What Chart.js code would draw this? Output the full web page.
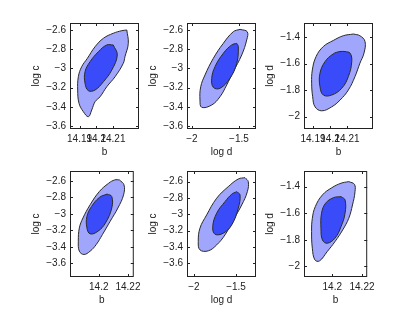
<!DOCTYPE html>
<html>
<head>
<meta charset="utf-8">
<script src="https://cdn.jsdelivr.net/npm/chart.js@4/dist/chart.umd.min.js"></script>
<style>
  body { margin: 0; background: #fff; width: 415px; height: 313px; position: relative; overflow: hidden; }
  canvas { position: absolute; }
</style>
</head>
<body>
<script>
// tick values
const bTicksTop = [14.19, 14.2, 14.21];
const bTicksBottom = [14.2, 14.22];
const logdTicksX = [-2, -1.5];
const logcTicks = [-3.6, -3.4, -3.2, -3, -2.8, -2.6];
const logdTicksY = [-2, -1.8, -1.6, -1.4];

// contour outlines, [x, y] in axis units
const p1Outer = [[14.2183,-2.600],[14.2192,-2.739],[14.2172,-2.878],[14.2162,-2.947],[14.2113,-3.086],[14.2063,-3.191],[14.2023,-3.295],[14.1993,-3.347],[14.1973,-3.433],[14.1953,-3.503],[14.1923,-3.451],[14.1897,-3.364],[14.1889,-3.225],[14.1893,-3.086],[14.1913,-2.982],[14.1947,-2.895],[14.1993,-2.774],[14.2043,-2.686],[14.2102,-2.634],[14.2153,-2.607]];
const p1Inner = [[14.2102,-2.756],[14.2126,-2.860],[14.2093,-3.017],[14.2043,-3.139],[14.1993,-3.225],[14.1953,-3.232],[14.1933,-3.155],[14.1933,-3.034],[14.1963,-2.930],[14.2013,-2.826],[14.2063,-2.756]];
const p2Outer = [[-1.489,-2.593],[-1.412,-2.618],[-1.418,-2.704],[-1.471,-2.860],[-1.561,-3.034],[-1.631,-3.173],[-1.702,-3.295],[-1.790,-3.381],[-1.897,-3.405],[-1.915,-3.329],[-1.907,-3.191],[-1.862,-3.069],[-1.773,-2.895],[-1.667,-2.739],[-1.561,-2.618]];
const p2Inner = [[-1.524,-2.739],[-1.507,-2.774],[-1.524,-2.947],[-1.596,-3.103],[-1.702,-3.207],[-1.773,-3.197],[-1.790,-3.103],[-1.755,-2.982],[-1.667,-2.843],[-1.578,-2.756]];
const p3Outer = [[14.2137,-1.377],[14.2176,-1.390],[14.2206,-1.433],[14.2200,-1.521],[14.2176,-1.597],[14.2147,-1.698],[14.2108,-1.799],[14.2059,-1.875],[14.2010,-1.926],[14.1951,-1.956],[14.1912,-1.926],[14.1898,-1.850],[14.1892,-1.748],[14.1896,-1.648],[14.1918,-1.547],[14.1961,-1.471],[14.2019,-1.426],[14.2078,-1.390]];
const p3Inner = [[14.2088,-1.509],[14.2118,-1.521],[14.2128,-1.585],[14.2108,-1.698],[14.2069,-1.786],[14.2010,-1.837],[14.1961,-1.837],[14.1941,-1.774],[14.1941,-1.673],[14.1971,-1.585],[14.2019,-1.527],[14.2059,-1.509]];
const p4Outer = [[14.2142,-2.588],[14.2173,-2.648],[14.2170,-2.769],[14.2131,-2.929],[14.2078,-3.090],[14.2025,-3.251],[14.1983,-3.371],[14.1941,-3.452],[14.1898,-3.492],[14.1867,-3.452],[14.1860,-3.331],[14.1867,-3.170],[14.1892,-3.049],[14.1941,-2.889],[14.2004,-2.729],[14.2068,-2.628],[14.2110,-2.588]];
const p4Inner = [[14.2057,-2.760],[14.2089,-2.789],[14.2089,-2.929],[14.2046,-3.110],[14.1994,-3.211],[14.1941,-3.242],[14.1919,-3.170],[14.1919,-3.030],[14.1951,-2.910],[14.2004,-2.801]];
const p5Outer = [[-1.393,-2.551],[-1.354,-2.600],[-1.365,-2.723],[-1.432,-2.886],[-1.532,-3.069],[-1.631,-3.253],[-1.730,-3.376],[-1.830,-3.449],[-1.929,-3.437],[-1.949,-3.335],[-1.929,-3.171],[-1.849,-3.008],[-1.730,-2.803],[-1.592,-2.661],[-1.473,-2.567]];
const p5Inner = [[-1.492,-2.723],[-1.452,-2.763],[-1.473,-2.926],[-1.551,-3.131],[-1.651,-3.232],[-1.750,-3.245],[-1.777,-3.151],[-1.730,-2.987],[-1.631,-2.845],[-1.551,-2.754]];
const p6Outer = [[14.2111,-1.362],[14.2149,-1.382],[14.2153,-1.438],[14.2136,-1.538],[14.2111,-1.638],[14.2070,-1.726],[14.2018,-1.814],[14.1966,-1.889],[14.1914,-1.959],[14.1883,-1.951],[14.1866,-1.863],[14.1861,-1.738],[14.1866,-1.638],[14.1886,-1.550],[14.1934,-1.462],[14.1997,-1.408],[14.2059,-1.374]];
const p6Inner = [[14.2059,-1.475],[14.2086,-1.500],[14.2086,-1.600],[14.2059,-1.701],[14.2018,-1.788],[14.1966,-1.826],[14.1934,-1.801],[14.1924,-1.713],[14.1928,-1.600],[14.1955,-1.525],[14.2008,-1.483]];

const panels = [
  { left: 70,  top: 23,  xTitle: "b",     yTitle: "log c", x: [14.1843, 14.2256], y: [-3.631, -2.527], xTicks: bTicksTop,    yTicks: logcTicks,  outer: p1Outer, inner: p1Inner },
  { left: 187, top: 23,  xTitle: "log d", yTitle: "log c", x: [-2.053, -1.319],   y: [-3.631, -2.527], xTicks: logdTicksX,   yTicks: logcTicks,  outer: p2Outer, inner: p2Inner },
  { left: 304, top: 23,  xTitle: "b",     yTitle: "log d", x: [14.1847, 14.2253], y: [-2.093, -1.294], xTicks: bTicksTop,    yTicks: logdTicksY, outer: p3Outer, inner: p3Inner },
  { left: 70,  top: 171, xTitle: "b",     yTitle: "log c", x: [14.1803, 14.224],  y: [-3.765, -2.48],  xTicks: bTicksBottom, yTicks: logcTicks,  outer: p4Outer, inner: p4Inner },
  { left: 187, top: 171, xTitle: "log d", yTitle: "log c", x: [-2.083, -1.262],   y: [-3.77, -2.469],  xTicks: logdTicksX,   yTicks: logcTicks,  outer: p5Outer, inner: p5Inner },
  { left: 304, top: 171, xTitle: "b",     yTitle: "log d", x: [14.181, 14.2235],  y: [-2.08, -1.282],  xTicks: bTicksBottom, yTicks: logdTicksY, outer: p6Outer, inner: p6Inner }
];

const BOX_W = 69, BOX_H = 106, AXIS_W = 50, AXIS_H = 35, PAD_T = 10, PAD_R = 6;
const FONT = { family: "'Liberation Sans', Arial, sans-serif", size: 10 };
const TEXT = "#222";

// matlab style: box all round, short ticks pointing inwards
const framePlugin = {
  id: "frame",
  afterDatasetsDraw(chart) {
    const { ctx, chartArea: a, scales } = chart;
    ctx.save();
    ctx.strokeStyle = "#222";
    ctx.lineWidth = 1;
    ctx.beginPath();
    scales.x.ticks.forEach(t => {
      const px = Math.round(scales.x.getPixelForValue(t.value)) + 0.5;
      ctx.moveTo(px, a.bottom); ctx.lineTo(px, a.bottom - 3);
      ctx.moveTo(px, a.top); ctx.lineTo(px, a.top + 3);
    });
    scales.y.ticks.forEach(t => {
      const py = Math.round(scales.y.getPixelForValue(t.value)) + 0.5;
      ctx.moveTo(a.left, py); ctx.lineTo(a.left + 3, py);
      ctx.moveTo(a.right, py); ctx.lineTo(a.right - 3, py);
    });
    ctx.stroke();
    ctx.strokeRect(a.left + 0.5, a.top + 0.5, a.width - 1, a.height - 1);
    ctx.restore();
  }
};

const fmt = v => String(+v.toFixed(4)).replace("-", "\u2212");
const toPoints = arr => arr.concat([arr[0]]).map(p => ({ x: p[0], y: p[1] }));

panels.forEach(p => {
  const canvas = document.createElement("canvas");
  canvas.width = AXIS_W + BOX_W + PAD_R;
  canvas.height = PAD_T + BOX_H + AXIS_H;
  canvas.style.left = (p.left - AXIS_W) + "px";
  canvas.style.top = (p.top - PAD_T) + "px";
  document.body.appendChild(canvas);

  new Chart(canvas.getContext("2d"), {
    type: "line",
    data: {
      datasets: [
        {
          data: toPoints(p.inner),
          borderColor: "#2a2a2a",
          backgroundColor: "rgb(58, 76, 250)",
          borderWidth: 1,
          pointRadius: 0,
          tension: 0.4,
          fill: "shape"
        },
        {
          data: toPoints(p.outer),
          borderColor: "#2a2a2a",
          backgroundColor: "rgb(160, 166, 252)",
          borderWidth: 1,
          pointRadius: 0,
          tension: 0.4,
          fill: "shape"
        }
      ]
    },
    options: {
      responsive: false,
      animation: false,
      layout: { padding: { top: PAD_T, right: PAD_R, left: 0, bottom: 0 } },
      plugins: { legend: { display: false }, tooltip: { enabled: false } },
      scales: {
        x: {
          type: "linear",
          min: p.x[0],
          max: p.x[1],
          afterBuildTicks: s => { s.ticks = p.xTicks.map(v => ({ value: v })); },
          afterFit: s => { s.height = AXIS_H; },
          grid: { display: false, drawTicks: false },
          border: { display: false },
          ticks: { font: FONT, color: TEXT, padding: 4, maxRotation: 0, autoSkip: false, callback: v => fmt(v) },
          title: { display: true, text: p.xTitle, font: FONT, color: TEXT, padding: { top: 0, bottom: 6 } }
        },
        y: {
          type: "linear",
          min: p.y[0],
          max: p.y[1],
          afterBuildTicks: s => { s.ticks = p.yTicks.map(v => ({ value: v })); },
          afterFit: s => { s.width = AXIS_W; },
          grid: { display: false, drawTicks: false },
          border: { display: false },
          ticks: { font: FONT, color: TEXT, padding: 4, autoSkip: false, callback: v => fmt(v) },
          title: { display: true, text: p.yTitle, font: FONT, color: TEXT, padding: { top: 10, bottom: 0 } }
        }
      }
    },
    plugins: [framePlugin]
  });
});
</script>
</body>
</html>
